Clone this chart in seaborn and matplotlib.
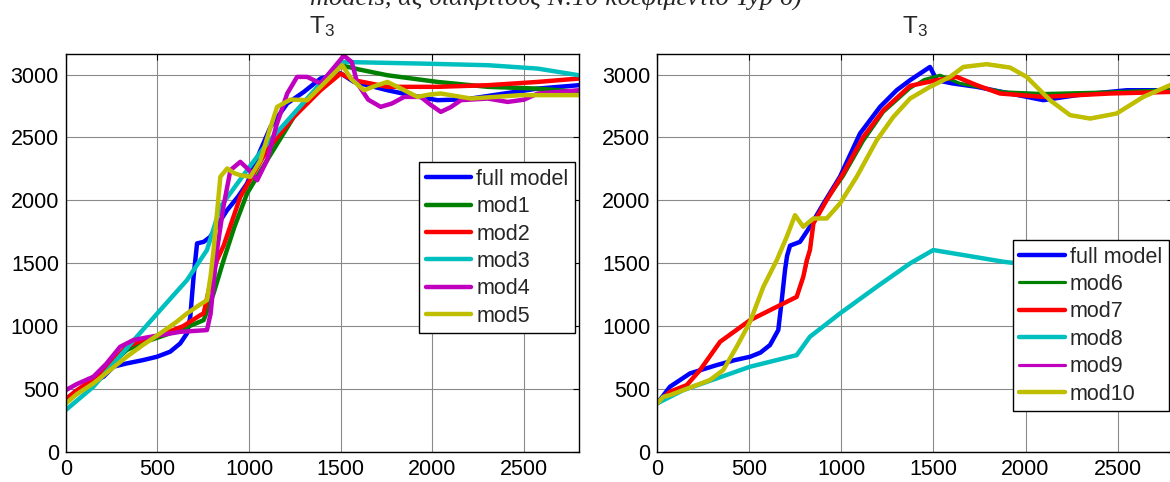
import matplotlib
matplotlib.use("Agg")
import matplotlib.pyplot as plt
import seaborn as sns

# ===== data (time on x, T3 on y)
# left panel
full_l_x = [0, 50, 120, 205, 260, 332, 420, 497, 569, 624, 661, 679, 697, 716, 752, 788, 830, 880, 940, 989,
            1062, 1117, 1208, 1299, 1390, 1499, 1572, 1660, 1755, 1900, 2028, 2120, 2211, 2393, 2575, 2800]
full_l_y = [413, 480, 540, 598, 678, 704, 730, 757, 797, 863, 943, 1075, 1393, 1658, 1670, 1710, 1810, 1922, 2030, 2134,
            2399, 2584, 2770, 2862, 2968, 3010, 2941, 2910, 2875, 2830, 2796, 2800, 2809, 2849, 2888, 2915]
mod1_x = [0, 60, 150, 240, 332, 420, 515, 640, 752, 806, 861, 920, 989, 1098, 1244, 1390, 1499, 1600, 1755, 2028,
          2302, 2575, 2800]
mod1_y = [413, 480, 572, 690, 810, 870, 916, 980, 1048, 1260, 1525, 1790, 2055, 2319, 2663, 2902, 3074, 3040, 2994, 2941,
          2902, 2888, 2862]
mod2_x = [0, 60, 150, 240, 332, 420, 515, 640, 734, 752, 788, 825, 861, 952, 1098, 1244, 1390, 1499, 1572, 1755,
          2028, 2302, 2575, 2800]
mod2_y = [420, 490, 580, 700, 836, 890, 929, 1000, 1088, 1101, 1340, 1525, 1640, 2028, 2399, 2663, 2875, 3007, 2955, 2902,
          2902, 2915, 2941, 2968]
mod3_x = [0, 150, 387, 515, 661, 770, 843, 989, 1098, 1244, 1390, 1499, 1937, 2302, 2575, 2800]
mod3_y = [334, 519, 916, 1128, 1366, 1605, 1948, 2240, 2452, 2690, 2929, 3100, 3087, 3074, 3047, 2994]
mod4_x = [0, 60, 150, 220, 296, 369, 440, 515, 624, 770, 790, 806, 825, 860, 898, 952, 1000, 1044, 1098, 1150,
          1208, 1262, 1317, 1390, 1460, 1517, 1560, 1591, 1650, 1718, 1780, 1846, 1937, 1990, 2046, 2100, 2156,
          2302, 2411, 2500, 2575, 2800]
mod4_y = [492, 540, 598, 700, 836, 890, 910, 929, 955, 969, 1100, 1340, 1605, 1950, 2240, 2306, 2240, 2160, 2319, 2600,
          2849, 2981, 2981, 2929, 3050, 3150, 3100, 2929, 2800, 2743, 2770, 2822, 2822, 2760, 2703, 2740, 2796,
          2809, 2782, 2800, 2849, 2875]
mod5_x = [0, 60, 150, 240, 332, 420, 515, 600, 661, 720, 770, 790, 806, 825, 843, 880, 920, 952, 1007, 1062,
          1110, 1153, 1226, 1317, 1390, 1508, 1560, 1627, 1690, 1755, 1840, 1919, 1980, 2046, 2211, 2484, 2800]
mod5_y = [386, 460, 545, 650, 757, 850, 943, 1030, 1101, 1160, 1207, 1400, 1605, 1900, 2187, 2253, 2215, 2200, 2187, 2319,
          2550, 2743, 2801, 2796, 2902, 3074, 2960, 2875, 2910, 2941, 2880, 2822, 2840, 2849, 2809, 2836, 2836]

# right panel
full_r_x = [0, 69, 178, 323, 420, 504, 560, 612, 657, 676, 694, 705, 721, 775, 829, 903, 992, 1101, 1210, 1300,
            1373, 1481, 1518, 1600, 1735, 1916, 2097, 2278, 2550, 2800]
full_r_y = [387, 519, 625, 691, 730, 757, 790, 850, 969, 1207, 1450, 1560, 1640, 1670, 1790, 1975, 2187, 2531, 2743, 2875,
            2955, 3060, 2955, 2930, 2902, 2849, 2796, 2836, 2875, 2875]
mod6_x = [0, 69, 160, 232, 341, 504, 649, 757, 793, 829, 848, 920, 1010, 1119, 1228, 1373, 1450, 1536, 1644, 1880,
          2097, 2459, 2800]
mod6_y = [387, 479, 532, 651, 876, 1048, 1154, 1233, 1393, 1605, 1817, 2002, 2190, 2470, 2700, 2890, 2960, 2994, 2929, 2862,
          2849, 2862, 2880]
mod7_x = [0, 69, 160, 232, 341, 504, 649, 757, 793, 812, 829, 848, 920, 1010, 1119, 1228, 1373, 1518, 1626, 1735,
          1861, 2097, 2459, 2800]
mod7_y = [387, 479, 532, 651, 876, 1048, 1154, 1233, 1393, 1525, 1605, 1817, 2002, 2214, 2504, 2716, 2910, 2955, 2981, 2915,
          2849, 2822, 2849, 2862]
mod8_x = [0, 141, 323, 504, 757, 829, 992, 1192, 1373, 1499, 1880, 2300, 2800]
mod8_y = [387, 492, 585, 678, 770, 916, 1101, 1313, 1499, 1605, 1512, 1440, 1370]
mod10_x = [0, 33, 69, 141, 286, 358, 431, 504, 576, 649, 703, 748, 793, 848, 920, 992, 1083, 1192, 1282, 1373,
           1481, 1590, 1662, 1789, 1916, 2006, 2133, 2242, 2351, 2495, 2640, 2800]
mod10_y = [387, 439, 452, 492, 572, 651, 836, 1035, 1313, 1525, 1710, 1882, 1790, 1856, 1856, 1975, 2187, 2478, 2663, 2809,
           2902, 2981, 3060, 3082, 3055, 2981, 2796, 2677, 2650, 2690, 2822, 2925]
# mod9 is hidden under mod10 in the reference
mod9_x = mod10_x
mod9_y = mod10_y

labels_left = ["full model", "mod1", "mod2", "mod3", "mod4", "mod5"]
labels_right = ["full model", "mod6", "mod7", "mod8", "mod9", "mod10"]
x_ticks = [0, 500, 1000, 1500, 2000, 2500]
y_ticks = [0, 500, 1000, 1500, 2000, 2500, 3000]

# matlab default line colours
colors = ["#0000ff", "#008000", "#ff0000", "#00bfbf", "#bf00bf", "#bfbf00"]

# =====
sns.set_theme(style="white")
plt.rcParams["font.family"] = ["Liberation Sans", "DejaVu Sans"]
plt.rcParams["mathtext.default"] = "regular"

fig = plt.figure(figsize=(11.7, 4.82), dpi=100)
ax_l = fig.add_axes([0.0563, 0.0622, 0.4385, 0.825])
ax_r = fig.add_axes([0.5618, 0.0622, 0.4406, 0.825])

left_series = [(full_l_x, full_l_y), (mod1_x, mod1_y), (mod2_x, mod2_y),
               (mod3_x, mod3_y), (mod4_x, mod4_y), (mod5_x, mod5_y)]
right_series = [(full_r_x, full_r_y), (mod6_x, mod6_y), (mod7_x, mod7_y),
                (mod8_x, mod8_y), (mod9_x, mod9_y), (mod10_x, mod10_y)]
left_widths = [3.2, 3.2, 3.2, 3.2, 3.2, 3.2]
right_widths = [3.2, 2.3, 3.2, 3.2, 2.3, 3.2]

for ax, series, labels, widths, anchor in [
    (ax_l, left_series, labels_left, left_widths, (0.992, 0.729)),
    (ax_r, right_series, labels_right, right_widths, (0.992, 0.533)),
]:
    for (x, y), label, color, lw in zip(series, labels, colors, widths):
        sns.lineplot(x=x, y=y, ax=ax, color=color, linewidth=lw, label=label,
                     sort=False, estimator=None)
    ax.set_xlim(0, 2800)
    ax.set_ylim(0, 3160)
    ax.set_xticks(x_ticks)
    ax.set_yticks(y_ticks)
    ax.grid(True, color="#8a8a8a", linewidth=0.8)
    ax.set_axisbelow(True)
    ax.tick_params(direction="in", length=4, width=0.8, top=True, right=True,
                   labelsize=15.5, pad=5, colors="black")
    for spine in ax.spines.values():
        spine.set_color("black")
        spine.set_linewidth(1.0)
    ax.set_title("T$_3$", fontsize=17.5, pad=15)
    leg = ax.legend(loc="upper right", bbox_to_anchor=anchor, fontsize=15.5,
                    frameon=True, fancybox=False, framealpha=1, edgecolor="black",
                    borderaxespad=0, borderpad=0.3, labelspacing=0.3,
                    handlelength=2.1, handletextpad=0.25)
    leg.get_frame().set_linewidth(1.0)

# caption from the page above, cut off by the crop
fig.text(0.265, 1 - 5 / 482, "models, ας διακριτούς Ν.10 κοεφιμεντίο Typ 6)",
         family=["Liberation Serif", "DejaVu Serif"], style="italic", fontsize=19,
         va="baseline", ha="left")

fig.savefig("out.png", dpi=100)
